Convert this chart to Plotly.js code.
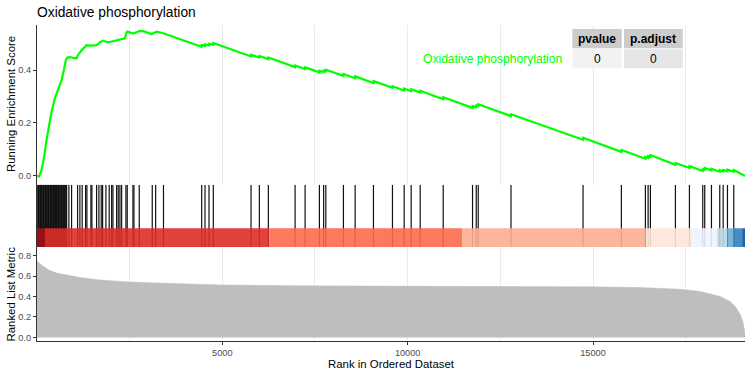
<!DOCTYPE html>
<html><head><meta charset="utf-8">
<script src="https://cdn.plot.ly/plotly-3.0.1.min.js"></script>
<style>html,body{margin:0;padding:0;background:#fff;}#chart{width:750px;height:375px;}</style>
</head><body><div id="chart"></div>
<script>
const geneSetName = 'Oxidative phosphorylation';
const nGenes = 19100;

// Running enrichment score (rank, ES)
const esRank = [1, 60, 124, 194, 259, 329, 394, 483, 599, 664, 726, 780, 820, 888, 969, 1069, 1100, 1204, 1339, 1455, 1609, 1700, 1787, 1900, 1968, 2149, 2373, 2410, 2435, 2597, 2760, 2867, 3094, 3229, 3407,
  4440, 4444, 4533, 4535, 4641, 4643, 4757, 4759, 5775, 5777, 5999, 6001, 6242, 6244, 6963, 6965, 7233, 7235, 7619, 7621, 7733, 7735, 7792, 7794,
  8267, 8269, 8583, 8585, 9077, 9079, 9590, 9592, 9906, 9908, 10095, 10097, 10338, 10340, 10959, 10961, 11750, 11752, 11850, 11852, 11904, 11906,
  12787, 12789, 14731, 14733, 15765, 15767, 16413, 16415, 16486, 16488, 16548, 16550, 17223, 17225, 17601, 17603, 17960, 17962, 18014, 18016,
  18195, 18197, 18419, 18421, 18511, 18513, 18627, 18629, 18797, 18799, 19100];
const esValue = [0, -0.002, 0.023, 0.073, 0.136, 0.2, 0.243, 0.293, 0.337, 0.362, 0.4, 0.438, 0.447, 0.449, 0.446, 0.444, 0.455, 0.475, 0.494, 0.492, 0.494, 0.505, 0.511, 0.505, 0.506, 0.513, 0.52, 0.54, 0.545, 0.538, 0.547, 0.547, 0.536, 0.545, 0.539,
  0.488, 0.495, 0.491, 0.497, 0.493, 0.499, 0.496, 0.502, 0.451, 0.458, 0.447, 0.453, 0.441, 0.447, 0.411, 0.417, 0.404, 0.410, 0.391, 0.397, 0.392, 0.398, 0.395, 0.401,
  0.378, 0.385, 0.369, 0.376, 0.351, 0.358, 0.333, 0.339, 0.323, 0.330, 0.320, 0.327, 0.315, 0.322, 0.290, 0.297, 0.257, 0.264, 0.259, 0.266, 0.264, 0.271,
  0.226, 0.233, 0.137, 0.144, 0.091, 0.098, 0.065, 0.072, 0.068, 0.075, 0.072, 0.079, 0.042, 0.049, 0.030, 0.037, 0.019, 0.026, 0.023, 0.030,
  0.021, 0.027, 0.016, 0.022, 0.017, 0.023, 0.018, 0.024, 0.016, 0.022, 0.0];

// Gene-set hit positions (rank)
const hitRank = [22, 41, 58, 80, 97, 118, 134, 157, 176, 193, 215, 231, 252, 270, 291, 310, 327, 349, 366, 388, 404, 425, 447, 463, 481, 502, 524, 540, 561, 583, 600, 622, 641, 659, 680, 702, 719, 740, 762, 781, 800,
  861, 934, 1096, 1158, 1220, 1312, 1347, 1455, 1482, 1609, 1671, 1733, 1771, 1860, 1949, 2014, 2049, 2149, 2192, 2238, 2284, 2400, 2435, 2589, 2616, 2759, 3110, 3202, 3413,
  4444, 4533, 4641, 4757, 5775, 5999, 6242, 6963, 7233, 7619, 7733, 7792, 8267, 8583, 9077, 9590, 9906, 10095, 10338, 10959, 11750, 11850, 11904, 12787,
  14731, 15765, 16413, 16486, 16548, 17223, 17601, 17960, 18014, 18195, 18419, 18511, 18627, 18797];

// Ranked list metric (rank, value)
const metricRank = [1, 40, 78, 186, 348, 537, 800, 1158, 1698, 2373, 3048, 4500, 4992, 7098, 9798, 12498, 14982, 16278, 17358, 17898, 18438, 18708, 18843, 18978, 19045, 19100];
const metricValue = [0.75, 0.735, 0.72, 0.693, 0.654, 0.63, 0.612, 0.587, 0.563, 0.545, 0.535, 0.518, 0.514, 0.505, 0.502, 0.5, 0.495, 0.488, 0.472, 0.449, 0.40, 0.35, 0.30, 0.22, 0.15, 0.04];

// Colour bar bins (rank edges) and colours
const barEdges = [1, 215, 6270, 11465, 16427, 17674, 18349, 18619, 18797, 19024, 19100];
const barColors = ['#A50F15', '#DE2D26', '#FB6A4A', '#FCAE91', '#FEE5D9', '#EFF3FF', '#BDD7E7', '#6BAED6', '#3182BD', '#08519C'];

const xTickVals = [5000, 10000, 15000];
const xTickText = ['5000', '10000', '15000'];
const esTickVals = [0, 0.2, 0.4];
const esTickText = ['0.0', '0.2', '0.4'];
const metricTickVals = [0, 0.2, 0.4, 0.6, 0.8];
const metricTickText = ['0.0', '0.2', '0.4', '0.6', '0.8'];
const tableHeader = ['pvalue', 'p.adjust'];
const tableValues = ['0', '0'];

const FONT = 'Liberation Sans, Arial, sans-serif';
const L = 37, R = 5, T = 25, B = 34, W = 750, H = 375;
const pw = W - L - R, ph = H - T - B;
const px2x = p => (p - L) / pw;
const py2y = p => (H - B - p) / ph;

const hitX = [], hitY = [];
hitRank.forEach(r => { hitX.push(r, r, null); hitY.push(0, 1, null); });

const traces = [
  {x: metricRank, y: metricValue, xaxis: 'x3', yaxis: 'y3', type: 'scatter', mode: 'lines',
   fill: 'tozeroy', fillcolor: '#BEBEBE', line: {color: '#BEBEBE', width: 0.5}, hoverinfo: 'skip'},
  {x: hitX, y: hitY, xaxis: 'x2', yaxis: 'y2', type: 'scatter', mode: 'lines',
   line: {color: '#111111', width: 1.2}, hoverinfo: 'skip'},
  {x: esRank, y: esValue, xaxis: 'x', yaxis: 'y', type: 'scatter', mode: 'lines',
   line: {color: '#00FF00', width: 2.2}, hoverinfo: 'skip'}
];

const shapes = [];
for (let i = 0; i < barColors.length; i++) {
  shapes.push({type: 'rect', xref: 'x2', yref: 'y2', x0: barEdges[i], x1: barEdges[i + 1], y0: 0, y1: 0.3,
    fillcolor: barColors[i], opacity: 0.9, line: {width: 0}, layer: 'above'});
}
// table cells
const colX = [[572.3, 621.7], [624, 682.7]];
const rowY = [[29, 48.3], [49.3, 68.3]];
const cellFill = [['#CCCCCC', '#CCCCCC'], ['#F2F2F2', '#E5E5E5']];
const annotations = [];
for (let r = 0; r < 2; r++) {
  for (let c = 0; c < 2; c++) {
    shapes.push({type: 'rect', xref: 'paper', yref: 'paper', x0: px2x(colX[c][0]), x1: px2x(colX[c][1]),
      y0: py2y(rowY[r][1]), y1: py2y(rowY[r][0]), fillcolor: cellFill[r][c], line: {width: 0}, layer: 'above'});
    const txt = r === 0 ? '<b>' + tableHeader[c] + '</b>' : tableValues[c];
    annotations.push({xref: 'paper', yref: 'paper', x: px2x((colX[c][0] + colX[c][1]) / 2),
      y: py2y((rowY[r][0] + rowY[r][1]) / 2), text: txt, showarrow: false, xanchor: 'center', yanchor: 'middle',
      font: {family: FONT, size: 12, color: '#000'}});
  }
}
annotations.push({xref: 'paper', yref: 'paper', x: px2x(563.5), y: py2y(59), text: geneSetName, showarrow: false,
  xanchor: 'right', yanchor: 'middle', font: {family: FONT, size: 12.1, color: '#00FF00'}});
annotations.push({xref: 'paper', yref: 'paper', x: px2x(10.5), y: py2y(104.5), text: 'Running Enrichment Score',
  showarrow: false, textangle: -90, xanchor: 'center', yanchor: 'middle', font: {family: FONT, size: 11.4, color: '#000'}});
annotations.push({xref: 'paper', yref: 'paper', x: px2x(10.5), y: py2y(294), text: 'Ranked List Metric',
  showarrow: false, textangle: -90, xanchor: 'center', yanchor: 'middle', font: {family: FONT, size: 11.4, color: '#000'}});
annotations.push({xref: 'paper', yref: 'paper', x: px2x(391), y: py2y(364), text: 'Rank in Ordered Dataset',
  showarrow: false, xanchor: 'center', yanchor: 'middle', font: {family: FONT, size: 11.4, color: '#000'}});

const tickFont = {family: FONT, size: 9.2, color: '#4D4D4D'};
const gridC = '#EBEBEB';
const xr = [1, nGenes];
const layout = {
  width: W, height: H, margin: {l: L, r: R, t: T, b: B, pad: 0},
  paper_bgcolor: '#fff', plot_bgcolor: '#fff', showlegend: false,
  font: {family: FONT},
  title: {text: geneSetName, x: L / W, xanchor: 'left', xref: 'container', y: 1 - 12 / H, yref: 'container', yanchor: 'middle',
    font: {family: FONT, size: 13.8, color: '#000'}},
  xaxis: {domain: [0, 1], anchor: 'y', range: xr, tickvals: xTickVals, showticklabels: false, ticks: '', showline: false,
    zeroline: false, showgrid: true, gridcolor: gridC, gridwidth: 1,
    minor: {dtick: 2500, tick0: 0, showgrid: true, gridcolor: gridC, gridwidth: 1, ticks: ''}},
  yaxis: {domain: [py2y(184.7), 1], anchor: 'x', range: [-0.033, 0.570], tickvals: esTickVals, ticktext: esTickText,
    showline: true, linecolor: '#333', linewidth: 1.1, ticks: 'outside', ticklen: 3, tickcolor: '#333', tickwidth: 1,
    tickfont: tickFont, showgrid: false, zeroline: false},
  xaxis2: {domain: [0, 1], anchor: 'y2', range: xr, showticklabels: false, ticks: '', showline: false, zeroline: false, showgrid: false},
  yaxis2: {domain: [py2y(247), py2y(184.7)], anchor: 'x2', range: [0, 1], showticklabels: false, ticks: '',
    showline: true, linecolor: '#333', linewidth: 1.1, zeroline: false, showgrid: false},
  xaxis3: {domain: [0, 1], anchor: 'y3', range: xr, tickvals: xTickVals, ticktext: xTickText,
    ticks: 'outside', ticklen: 3, tickcolor: '#333', tickwidth: 1, tickfont: tickFont,
    showline: true, linecolor: '#333', linewidth: 1.4, zeroline: false, showgrid: true, gridcolor: gridC, gridwidth: 1,
    minor: {dtick: 2500, tick0: 0, showgrid: true, gridcolor: gridC, gridwidth: 1, ticks: ''}},
  yaxis3: {domain: [0, py2y(247)], anchor: 'x3', range: [-0.035, 0.885], tickvals: metricTickVals, ticktext: metricTickText,
    showline: true, linecolor: '#333', linewidth: 1.1, ticks: 'outside', ticklen: 3, tickcolor: '#333', tickwidth: 1,
    tickfont: tickFont, showgrid: false, zeroline: false},
  shapes: shapes, annotations: annotations
};
Plotly.newPlot('chart', traces, layout, {staticPlot: true, displayModeBar: false});
</script></body></html>
